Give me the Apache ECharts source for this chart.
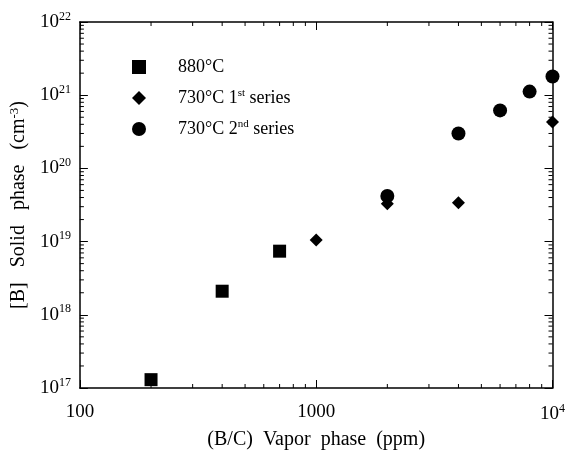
<!DOCTYPE html>
<html>
<head>
<meta charset="utf-8">
<script src="https://cdn.jsdelivr.net/npm/echarts@6/dist/echarts.min.js"></script>
<style>
  html, body { margin: 0; padding: 0; background: #fff; }
  #main { width: 568px; height: 455px; }
</style>
</head>
<body>
<div id="main"></div>
<script>
// 数据 (B/C ppm, [B] cm^-3)
var s880 = [[200, 1.3e17], [400, 2.1e18], [700, 7.4e18]];
var s730a = [[1000, 1.05e19], [2000, 3.3e19], [4000, 3.4e19], [10000, 4.3e20]];
var s730b = [[2000, 4.2e19], [4000, 3.0e20], [6000, 6.2e20], [8000, 1.12e21], [10000, 1.8e21]];
var xDecades = [100, 1000, 10000];
var yDecades = [1e17, 1e18, 1e19, 1e20, 1e21, 1e22];

var FONT = '"Liberation Serif", "DejaVu Serif", serif';

// 次刻度
var xMinor = [], yMinor = [];
for (var i = 0; i < xDecades.length - 1; i++) {
    for (var k = 2; k <= 9; k++) xMinor.push([xDecades[i] * k, 1e17]);
}
for (var j = 0; j < yDecades.length - 1; j++) {
    for (var m = 2; m <= 9; m++) yMinor.push([100, yDecades[j] * m]);
}

function supLabel(v) {
    var e = Math.round(Math.log10(v));
    return '{b|10}{s|' + e + '}';
}
var richNum = {
    b: { fontFamily: FONT, fontSize: 19, color: '#000' },
    s: { fontFamily: FONT, fontSize: 12, color: '#000', verticalAlign: 'bottom', padding: [0, 0, 11, 0] }
};

var myChart = echarts.init(document.getElementById('main'));

var axisLine = { show: true, lineStyle: { color: '#000', width: 1.5 } };

var option = {
    backgroundColor: '#fff',
    animation: false,
    grid: { left: 77, right: 14, top: 22, bottom: 62 },
    legend: {
        orient: 'vertical',
        left: 127,
        top: 53,
        itemGap: 12,
        itemWidth: 14,
        itemHeight: 14,
        data: [
            { name: '880°C', icon: 'rect' },
            { name: '730°C 1st series', icon: 'diamond' },
            { name: '730°C 2nd series', icon: 'circle' }
        ],
        formatter: function (name) {
            if (name === '730°C 1st series') return '730°C 1{s|st} series';
            if (name === '730°C 2nd series') return '730°C 2{s|nd} series';
            return name;
        },
        textStyle: {
            fontFamily: FONT, fontSize: 18, color: '#000', padding: [0, 0, 0, 27],
            rich: {
                s: { fontFamily: FONT, fontSize: 11, color: '#000', verticalAlign: 'bottom', padding: [0, 0, 9, 0] }
            }
        }
    },
    xAxis: [{
        type: 'log', logBase: 10, min: 100, max: 10000,
        name: '(B/C)  Vapor  phase  (ppm)',
        nameLocation: 'middle', nameGap: 42,
        nameTextStyle: { fontFamily: FONT, fontSize: 20, color: '#000' },
        axisLine: axisLine,
        axisTick: { inside: true, length: 8, lineStyle: { color: '#000' } },
        splitLine: { show: false },
        axisLabel: {
            margin: 15,
            formatter: function (v) {
                if (v >= 10000) return '{b|10}{s|4}';
                return '{b|' + v + '}';
            },
            rich: richNum
        }
    }, {
        type: 'log', logBase: 10, min: 100, max: 10000, position: 'top',
        axisLine: axisLine,
        axisTick: { inside: true, length: 8, lineStyle: { color: '#000' } },
        axisLabel: { show: false }, splitLine: { show: false }
    }],
    yAxis: [{
        type: 'log', logBase: 10, min: 1e17, max: 1e22,
        name: '[B]   Solid   phase   (cm{s|-3})',
        nameLocation: 'middle', nameGap: 48, nameRotate: 90,
        nameTextStyle: {
            fontFamily: FONT, fontSize: 20, color: '#000',
            rich: { s: { fontFamily: FONT, fontSize: 13, color: '#000', verticalAlign: 'bottom', padding: [0, 0, 9, 0] } }
        },
        axisLine: axisLine,
        axisTick: { inside: true, length: 8, lineStyle: { color: '#000' } },
        splitLine: { show: false },
        axisLabel: { margin: 9, formatter: supLabel, rich: richNum }
    }, {
        type: 'log', logBase: 10, min: 1e17, max: 1e22, position: 'right',
        axisLine: axisLine,
        axisTick: { inside: true, length: 8, lineStyle: { color: '#000' } },
        axisLabel: { show: false }, splitLine: { show: false }
    }],
    series: [
        {
            name: '880°C', type: 'scatter', data: s880,
            symbol: 'rect', symbolSize: 13, itemStyle: { color: '#000', opacity: 1 }
        },
        {
            name: '730°C 1st series', type: 'scatter', data: s730a,
            symbol: 'diamond', symbolSize: 13, itemStyle: { color: '#000', opacity: 1 }
        },
        {
            name: '730°C 2nd series', type: 'scatter', data: s730b,
            symbol: 'circle', symbolSize: 14, itemStyle: { color: '#000', opacity: 1 }
        },
        {
            // x 次刻度 (上下)
            type: 'custom', silent: true, data: xMinor, clip: false,
            renderItem: function (params, api) {
                var x = api.value(0);
                var pb = api.coord([x, 1e17]);
                var pt = api.coord([x, 1e22]);
                return {
                    type: 'group', children: [
                        { type: 'line', shape: { x1: pb[0], y1: pb[1], x2: pb[0], y2: pb[1] - 4 }, style: { stroke: '#000', lineWidth: 1 } },
                        { type: 'line', shape: { x1: pt[0], y1: pt[1], x2: pt[0], y2: pt[1] + 4 }, style: { stroke: '#000', lineWidth: 1 } }
                    ]
                };
            }
        },
        {
            // y 次刻度 (左右)
            type: 'custom', silent: true, data: yMinor, clip: false,
            renderItem: function (params, api) {
                var y = api.value(1);
                var pl = api.coord([100, y]);
                var pr = api.coord([10000, y]);
                return {
                    type: 'group', children: [
                        { type: 'line', shape: { x1: pl[0], y1: pl[1], x2: pl[0] + 4, y2: pl[1] }, style: { stroke: '#000', lineWidth: 1 } },
                        { type: 'line', shape: { x1: pr[0], y1: pr[1], x2: pr[0] - 4, y2: pr[1] }, style: { stroke: '#000', lineWidth: 1 } }
                    ]
                };
            }
        }
    ]
};

myChart.setOption(option);
</script>
</body>
</html>
